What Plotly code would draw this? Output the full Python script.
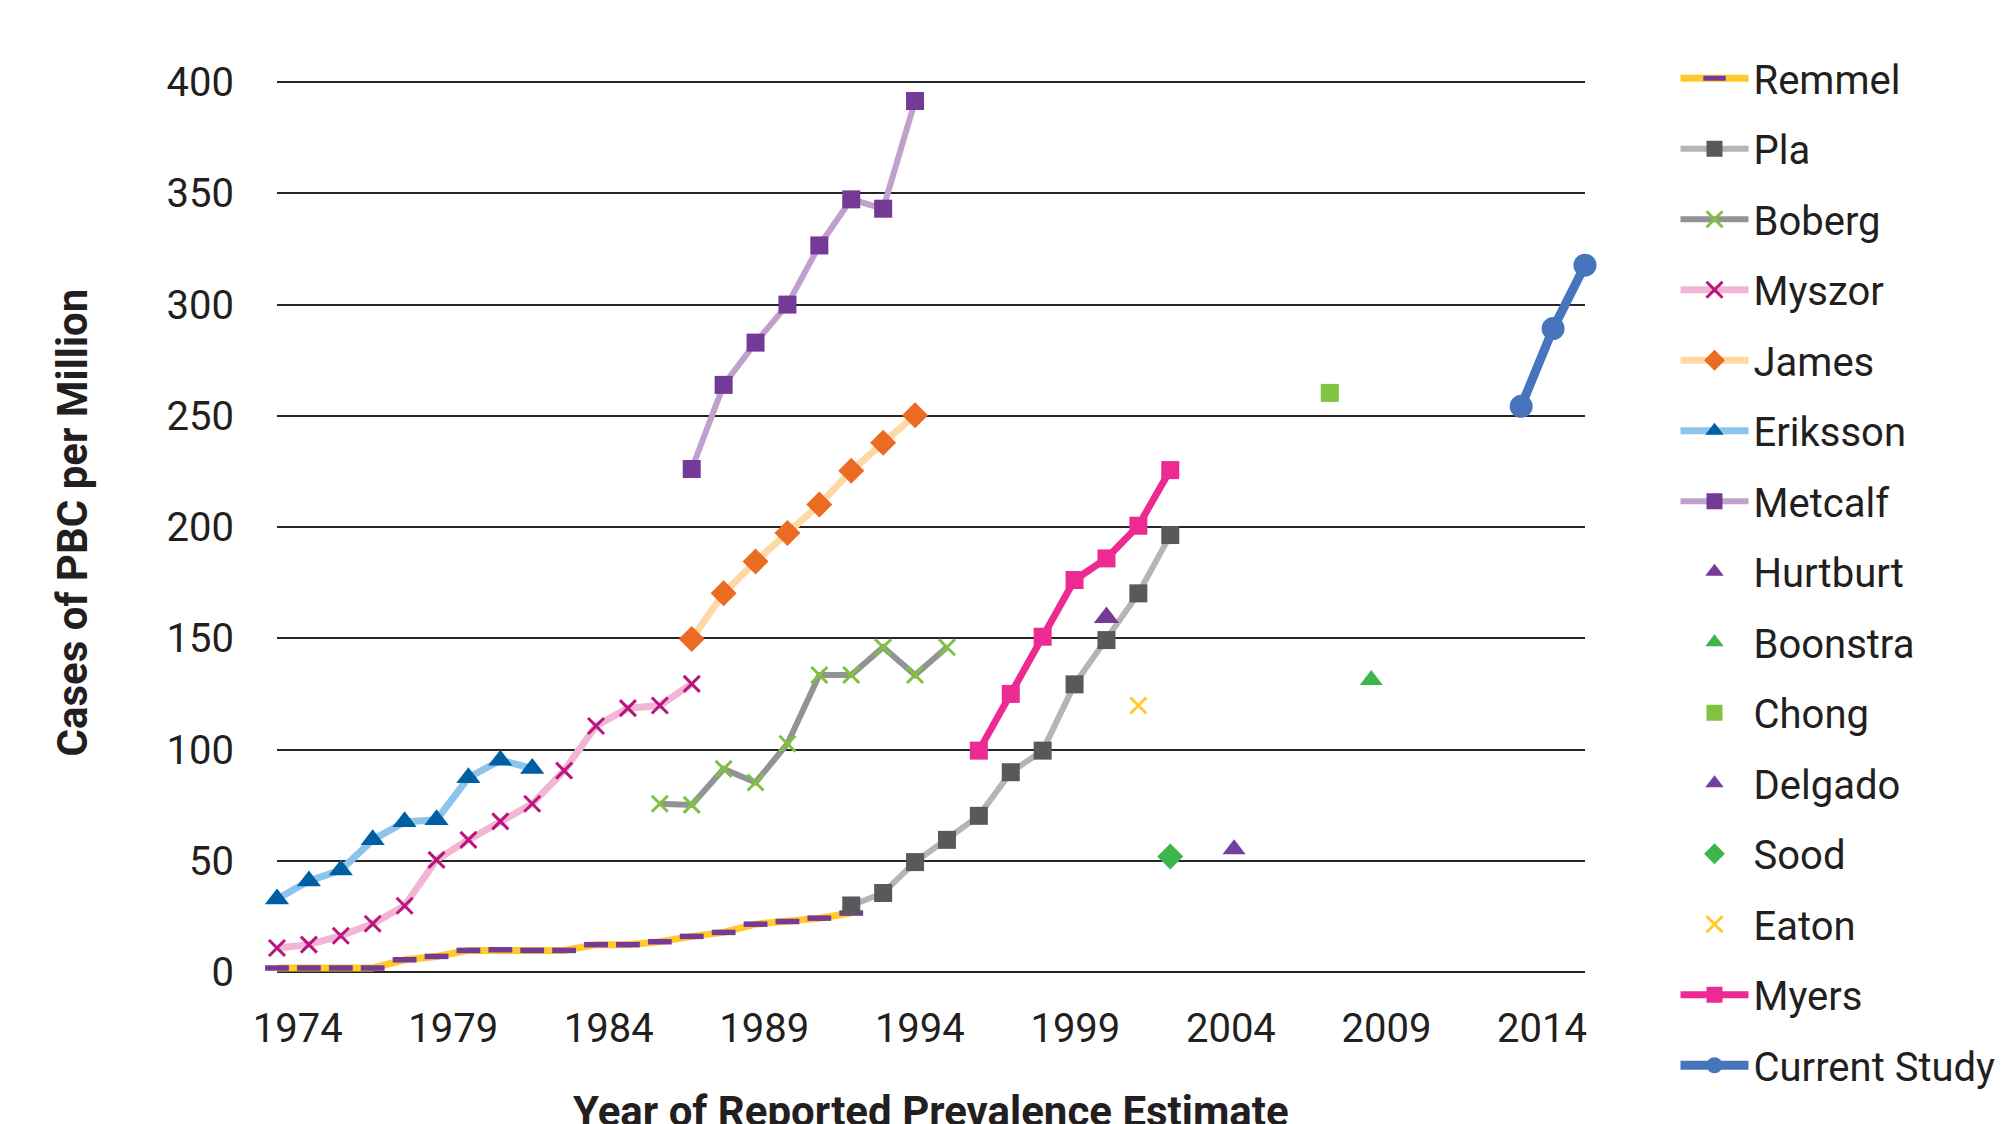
import plotly.graph_objects as go

# ---------------- data ----------------
remmel_years = list(range(1974, 1993))
remmel = [1.8, 1.8, 1.8, 1.8, 5.5, 7.0, 9.7, 10.0, 9.7, 9.7, 12.3, 12.3, 13.6, 16.0, 17.8, 21.5, 22.7, 24.2, 26.5]

pla_years = list(range(1992, 2003))
pla = [29.9, 35.5, 49.4, 59.4, 70.2, 89.8, 99.5, 129.3, 149.2, 170.2, 196.4]

boberg_years = list(range(1986, 1996))
boberg = [75.6, 75.1, 91.3, 85.2, 102.6, 133.5, 133.5, 146.0, 133.5, 146.0]

myszor_years = list(range(1974, 1988))
myszor = [10.8, 12.3, 16.3, 21.7, 29.8, 50.4, 59.4, 67.7, 75.6, 90.5, 110.6, 118.6, 119.8, 129.5]

james_years = list(range(1987, 1995))
james = [149.7, 170.2, 184.5, 197.3, 210.1, 225.3, 237.9, 250.3]

eriksson_years = list(range(1974, 1983))
eriksson = [32.8, 40.9, 45.8, 59.4, 67.5, 68.4, 87.3, 95.2, 91.5]

metcalf_years = list(range(1987, 1995))
metcalf = [226.1, 263.9, 282.9, 300.0, 326.6, 347.3, 343.1, 391.5]

hurtburt_years = [2000]
hurtburt = [159.4]

boonstra_years = [2008.3]
boonstra = [131.3]

chong_years = [2007]
chong = [260.3]

delgado_years = [2004]
delgado = [55.2]

sood_years = [2002]
sood = [51.9]

eaton_years = [2001]
eaton = [119.8]

myers_years = list(range(1996, 2003))
myers = [99.5, 125.0, 150.7, 176.2, 185.9, 200.6, 225.6]

current_years = [2013, 2014, 2015]
current = [254.3, 289.2, 317.7]

tick_years = [1974, 1979, 1984, 1989, 1994, 1999, 2004, 2009, 2014]
y_ticks = [0, 50, 100, 150, 200, 250, 300, 350, 400]

# ---------------- style ----------------
FONT = "Roboto, Arial, sans-serif"
TXT = "#231F20"

fig = go.Figure()


def add(name, xs, ys, mode, line_color=None, line_width=0, symbol="circle",
        msize=16, mcolor=None, mline=None, mline_w=0):
    marker = dict(symbol=symbol, size=msize, color=mcolor,
                  line=dict(color=mline if mline else mcolor, width=mline_w))
    fig.add_trace(go.Scatter(
        x=xs, y=ys, name=name, mode=mode,
        line=dict(color=line_color, width=line_width) if line_color else None,
        marker=marker, cliponaxis=False, legendgroup=name,
    ))


add("Remmel", remmel_years, remmel, "lines+markers", "#FFCA2C", 7,
    "line-ew", 17, "#753A96", "#753A96", 5.5)
add("Pla", pla_years, pla, "lines+markers", "#B5B5B5", 6, "square", 18, "#58595B")
add("Boberg", boberg_years, boberg, "lines+markers", "#939393", 6,
    "x-thin", 16, "#7DC242", "#7DC242", 3)
add("Myszor", myszor_years, myszor, "lines+markers", "#F2B5D4", 7,
    "x-thin", 16, "#B8157E", "#B8157E", 3)
add("James", james_years, james, "lines+markers", "#FFD9A3", 7, "diamond", 20, "#EC6B23")
add("Eriksson", eriksson_years, eriksson, "lines+markers", "#8CC4EB", 7,
    "triangle-up", 21, "#005FA2")
add("Metcalf", metcalf_years, metcalf, "lines+markers", "#C0A1CC", 6, "square", 18, "#733A97")
add("Hurtburt", hurtburt_years, hurtburt, "markers", symbol="triangle-up", msize=22, mcolor="#753A96")
add("Boonstra", boonstra_years, boonstra, "markers", symbol="triangle-up", msize=20, mcolor="#3DB54A")
add("Chong", chong_years, chong, "markers", symbol="square", msize=18, mcolor="#80C241")
add("Delgado", delgado_years, delgado, "markers", symbol="triangle-up", msize=20, mcolor="#7340A0")
add("Sood", sood_years, sood, "markers", symbol="diamond", msize=20, mcolor="#3DB54A")
add("Eaton", eaton_years, eaton, "markers", symbol="x-thin", msize=16,
    mcolor="#FFCA2C", mline="#FFCA2C", mline_w=3)
add("Myers", myers_years, myers, "lines+markers", "#EC2A91", 7, "square", 18, "#EC2A91")
add("Current Study", current_years, current, "lines+markers", "#4674BD", 9,
    "circle", 23, "#4674BD")

# label positions follow the printed axis labels
tick_pos = [1974.65 + 0.975 * (y - 1974) for y in tick_years]

fig.update_layout(
    width=2009, height=1124,
    margin=dict(l=277, r=424, t=70.5, b=151.7),
    paper_bgcolor="white", plot_bgcolor="white",
    font=dict(family=FONT, color=TXT, size=40),
    showlegend=True,
    legend=dict(
        xref="container", yref="container",
        x=0.834, xanchor="left", y=0.9593, yanchor="top",
        font=dict(family=FONT, size=40, color=TXT),
        traceorder="grouped", tracegroupgap=15.5, itemwidth=68,
        bgcolor="rgba(0,0,0,0)", maxheight=1.0,
    ),
    xaxis=dict(
        range=[1974, 2015], showgrid=False, zeroline=False, showline=False,
        tickmode="array", tickvals=tick_pos, ticktext=[str(y) for y in tick_years],
        ticks="", tickfont=dict(family=FONT, size=40, color=TXT),
        ticklabelstandoff=29,
    ),
    yaxis=dict(
        range=[0, 405], tickmode="array", tickvals=y_ticks,
        showgrid=True, gridcolor="#262626", gridwidth=1.6,
        zeroline=True, zerolinecolor="#262626", zerolinewidth=1.6,
        showline=False, ticks="", ticklabelstandoff=42,
        tickfont=dict(family=FONT, size=40, color=TXT),
    ),
    annotations=[
        dict(text="<b>Cases of PBC per Million</b>", xref="paper", yref="paper",
             x=-0.1562, y=0.4985, xanchor="center", yanchor="middle", textangle=-90,
             showarrow=False, font=dict(family=FONT, size=42, color=TXT)),
        dict(text="<b>Year of Reported Prevalence Estimate</b>", xref="paper", yref="paper",
             x=0.5, y=-0.155, xanchor="center", yanchor="middle",
             showarrow=False, font=dict(family=FONT, size=42, color=TXT)),
    ],
)

fig.write_html("out.html", config={"displayModeBar": False})

# remove the browser's default page margin so the figure sits at (0, 0)
with open("out.html", "r", encoding="utf-8") as f:
    html = f.read()
html = html.replace("<body>", '<body style="margin:0;">', 1)
with open("out.html", "w", encoding="utf-8") as f:
    f.write(html)
